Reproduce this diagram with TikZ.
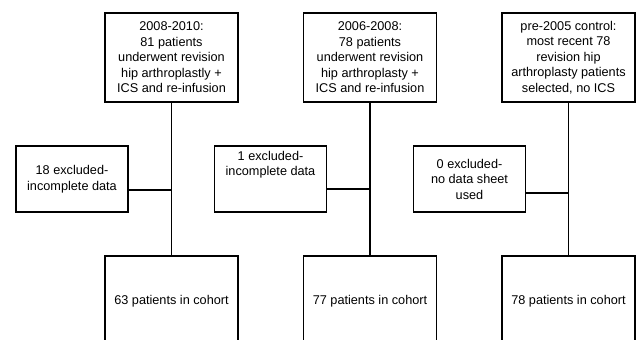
\documentclass[tikz,border=0pt]{standalone}
\usepackage{fontspec}
\setmainfont{Liberation Sans}
\begin{document}
\begin{tikzpicture}[x=1pt,y=-1pt,
  box/.style={draw, line width=1.9pt, align=center, inner sep=0pt, fill=white,
    font=\fontsize{12.7}{15.5}\selectfont},
  topbox/.style={box, minimum width=133pt, minimum height=89pt},
  exbox/.style={box, minimum width=112pt, minimum height=66pt},
  botbox/.style={box, minimum width=133pt, minimum height=90pt},
  link/.style={line width=1.9pt}]
\useasboundingbox (0,0) rectangle (640,340);
\clip (0,0) rectangle (640,340);
% top boxes
\node[topbox] (t1) at (171.5,57.5) {2008-2010:\\81 patients\\underwent revision\\hip arthroplastly +\\ICS and re-infusion};
\node[topbox] (t2) at (370,57.5) {2006-2008:\\78 patients\\underwent revision\\hip arthroplasty +\\ICS and re-infusion};
\node[topbox] (t3) at (568.5,57.5) {pre-2005 control:\\most recent 78\\revision hip\\arthroplasty patients\\selected, no ICS};
% bottom boxes
\node[botbox] (b1) at (171.5,301) {63 patients in cohort};
\node[botbox] (b2) at (370,301) {77 patients in cohort};
\node[botbox] (b3) at (568.5,301) {78 patients in cohort};
% vertical connectors
\draw[link] (t1) -- (b1);
\draw[link] (t2) -- (b2);
\draw[link] (t3) -- (b3);
% exclusion boxes
\node[exbox] (e1) at (72,179) {18 excluded-\\incomplete data};
\node[exbox] (e2) at (270.5,179) {1 excluded-\\incomplete data\\[15.5pt]};
\node[exbox] (e3) at (469.5,179) {0 excluded-\\no data sheet\\used};
\coordinate (j1) at (171.5,190);
\coordinate (j2) at (370,189);
\coordinate (j3) at (568.5,193);
\draw[link] (e1.east |- j1) -- (j1);
\draw[link] (e2.east |- j2) -- (j2);
\draw[link] (e3.east |- j3) -- (j3);
\end{tikzpicture}
\end{document}
